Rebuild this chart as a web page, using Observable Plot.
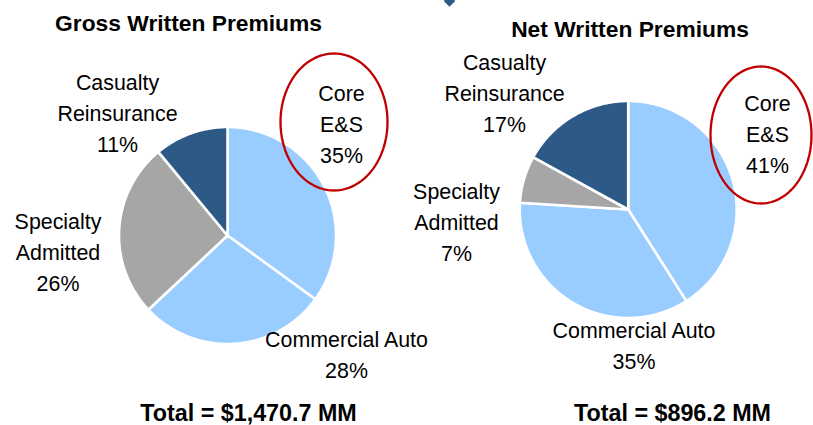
<!DOCTYPE html>
<html>
<head>
<meta charset="utf-8">
<script src="https://cdn.jsdelivr.net/npm/d3@7"></script>
<script src="https://cdn.jsdelivr.net/npm/@observablehq/plot@0.6"></script>
<style>
  html, body { margin: 0; padding: 0; background: #ffffff; }
  #chart { width: 813px; height: 425px; }
</style>
</head>
<body>
<div id="chart"></div>
<script>
// ---- data ----
const categories = ["Core E&S", "Commercial Auto", "Specialty Admitted", "Casualty Reinsurance"];
const labelLines = ["Core\nE&S", "Commercial Auto", "Specialty\nAdmitted", "Casualty\nReinsurance"];
const gwpShares = [35, 28, 26, 11];
const nwpShares = [41, 35, 7, 17];
const titles = ["Gross Written Premiums", "Net Written Premiums"];
const totals = ["Total = $1,470.7 MM", "Total = $896.2 MM"];
const highlighted = "Core E&S";

// ---- styles / layout ----
const sliceColors = ["#99CCFF", "#99CCFF", "#A6A6A6", "#2C5986"];
const font = "'Liberation Sans', Arial, Helvetica, sans-serif";
const layout = [
  { shares: gwpShares, cx: 227, cy: 235, r: 108.5, titleX: 188, titleY: 23.5, totalX: 248, totalY: 413,
    labels: [[341, 122], [346, 352], [57.5, 250], [117, 111]],
    ellipse: { cx: 333.5, cy: 121.5, rx: 53.5, ry: 68.5 } },
  { shares: nwpShares, cx: 627.7, cy: 209, r: 108.5, titleX: 629.5, titleY: 29.5, totalX: 672, totalY: 413,
    labels: [[767, 132], [633.5, 343], [456, 219.5], [504, 91]],
    ellipse: { cx: 760.5, cy: 134.5, rx: 50.5, ry: 68.5 } }
];

// ---- build mark data ----
const sliceRows = [];
const labelRows = [];
const ellipseRows = [];
const titleRows = [];
const totalRows = [];
layout.forEach((p, pi) => {
  const arcs = d3.pie().sort(null)(p.shares);
  arcs.forEach((a, i) => {
    const id = pi + "-" + i;
    sliceRows.push({ id, x: p.cx, y: p.cy, fill: sliceColors[i] });
    const n = Math.max(2, Math.ceil((a.endAngle - a.startAngle) / 0.01));
    for (let k = 0; k <= n; k++) {
      const t = a.startAngle + (a.endAngle - a.startAngle) * k / n;
      sliceRows.push({ id, x: p.cx + p.r * Math.sin(t), y: p.cy - p.r * Math.cos(t), fill: sliceColors[i] });
    }
    labelRows.push({ x: p.labels[i][0], y: p.labels[i][1], text: labelLines[i] + "\n" + p.shares[i] + "%", cat: categories[i] });
    if (categories[i] === highlighted) {
      const e = p.ellipse;
      for (let k = 0; k < 180; k++) {
        const t = 2 * Math.PI * k / 180;
        ellipseRows.push({ id: pi, x: e.cx + e.rx * Math.cos(t), y: e.cy + e.ry * Math.sin(t) });
      }
    }
  });
  titleRows.push({ x: p.titleX, y: p.titleY, text: titles[pi] });
  totalRows.push({ x: p.totalX, y: p.totalY, text: totals[pi] });
});

const chart = Plot.plot({
  width: 813,
  height: 425,
  margin: 0,
  x: { domain: [0, 813], range: [0, 813], axis: null },
  y: { domain: [0, 425], range: [0, 425], axis: null },
  color: { type: "identity" },
  style: { background: "#ffffff", fontFamily: font },
  marks: [
    Plot.dot([{ x: 449, y: 0.5 }], { x: "x", y: "y", symbol: "diamond2", r: 5.2, fill: "#2C5986", stroke: "none" }),
    Plot.line(sliceRows, { x: "x", y: "y", z: "id", fill: "fill", stroke: "#ffffff", strokeWidth: 2.6, strokeLinejoin: "round", curve: "linear-closed" }),
    Plot.line(ellipseRows, { x: "x", y: "y", z: "id", stroke: "#C00000", strokeWidth: 2.3, fill: "none", curve: "linear-closed" }),
    Plot.text(labelRows, { x: "x", y: "y", text: "text", fontSize: 21.4, lineHeight: 31 / 21.4, fill: "#000000", fontFamily: font, textAnchor: "middle" }),
    Plot.text(titleRows, { x: "x", y: "y", text: "text", fontSize: 22.8, fontWeight: "bold", fill: "#000000", fontFamily: font, textAnchor: "middle" }),
    Plot.text(totalRows, { x: "x", y: "y", text: "text", fontSize: 23.3, fontWeight: "bold", fill: "#000000", fontFamily: font, textAnchor: "middle" })
  ]
});
document.getElementById("chart").appendChild(chart);
</script>
</body>
</html>
